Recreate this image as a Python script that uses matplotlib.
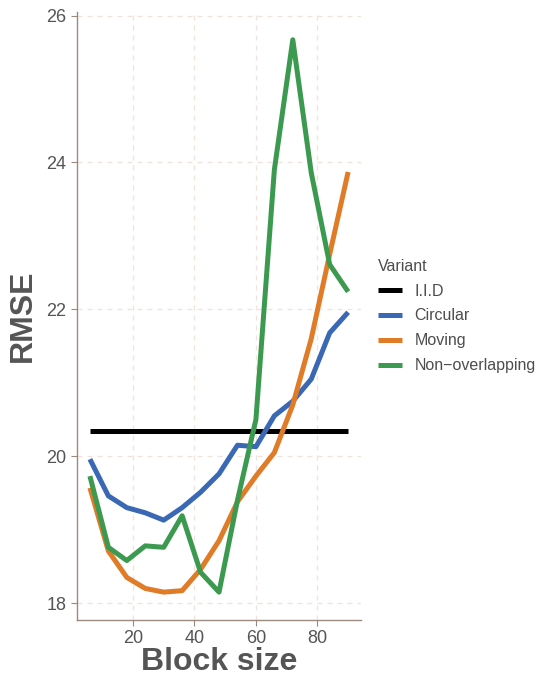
import numpy as np
import matplotlib
matplotlib.use("Agg")
import matplotlib.pyplot as plt

plt.rcParams['font.family'] = ['Liberation Sans', 'DejaVu Sans']

# -----------------------------
# DATA
# -----------------------------
block_size = [6, 12, 18, 24, 30, 36, 42, 48, 54, 60, 66, 72, 78, 84, 90]
iid = [20.34] * len(block_size)
circular = [19.96, 19.46, 19.30, 19.23, 19.13, 19.30, 19.51, 19.76, 20.15,
            20.13, 20.55, 20.75, 21.05, 21.68, 21.96]
moving = [19.57, 18.71, 18.35, 18.20, 18.15, 18.17, 18.46, 18.85, 19.38,
          19.73, 20.05, 20.70, 21.60, 22.75, 23.87]
non_overlapping = [19.73, 18.76, 18.58, 18.78, 18.76, 19.19, 18.42, 18.15, 19.40,
                   20.50, 23.90, 25.67, 23.86, 22.61, 22.24]

series = [("I.I.D", iid, "#000000"),
          ("Circular", circular, "#3A68B4"),
          ("Moving", moving, "#E07B28"),
          ("Non\u2212overlapping", non_overlapping, "#3C9A50")]

# -----------------------------
# PLOT
# -----------------------------
fig = plt.figure(figsize=(5.4, 6.78), dpi=100)
ax = fig.add_axes([0.1426, 0.0855, 0.526, 0.897])

for name, vals, col in series:
    ax.plot(block_size, vals, color=col, lw=3.6, label=name, solid_capstyle="butt")

ax.set_xlim(1.8, 94.2)
ax.set_ylim(17.77, 26.05)
ax.set_xticks([20, 40, 60, 80])
ax.set_yticks([18, 20, 22, 24, 26])

grid_col = "#efe3dc"
ax.grid(True, which="major", color=grid_col, ls=(0, (4, 4)), lw=0.9)
ax.set_axisbelow(True)

for s in ["top", "right"]:
    ax.spines[s].set_visible(False)
for s in ["left", "bottom"]:
    ax.spines[s].set_color("#9a8a80")
    ax.spines[s].set_linewidth(1.0)

ax.tick_params(which="major", colors="#9a8a80", length=4, width=0.8,
               labelsize=13, labelcolor="#555555")

ax.set_xlabel("Block size", fontsize=23, fontweight="bold", color="#555555", labelpad=0)
ax.set_ylabel("RMSE", fontsize=23, fontweight="bold", color="#555555", labelpad=6)

leg = ax.legend(loc="center left", bbox_to_anchor=(1.03, 0.5), frameon=False,
                title="Variant", fontsize=11.5, title_fontsize=11.5, borderpad=0,
                handlelength=1.5, handletextpad=0.8, labelspacing=0.62)
leg._legend_box.align = "left"
for t in leg.get_texts():
    t.set_color("#4d4d4d")
leg.get_title().set_color("#4d4d4d")

fig.savefig("out.png", dpi=100)
